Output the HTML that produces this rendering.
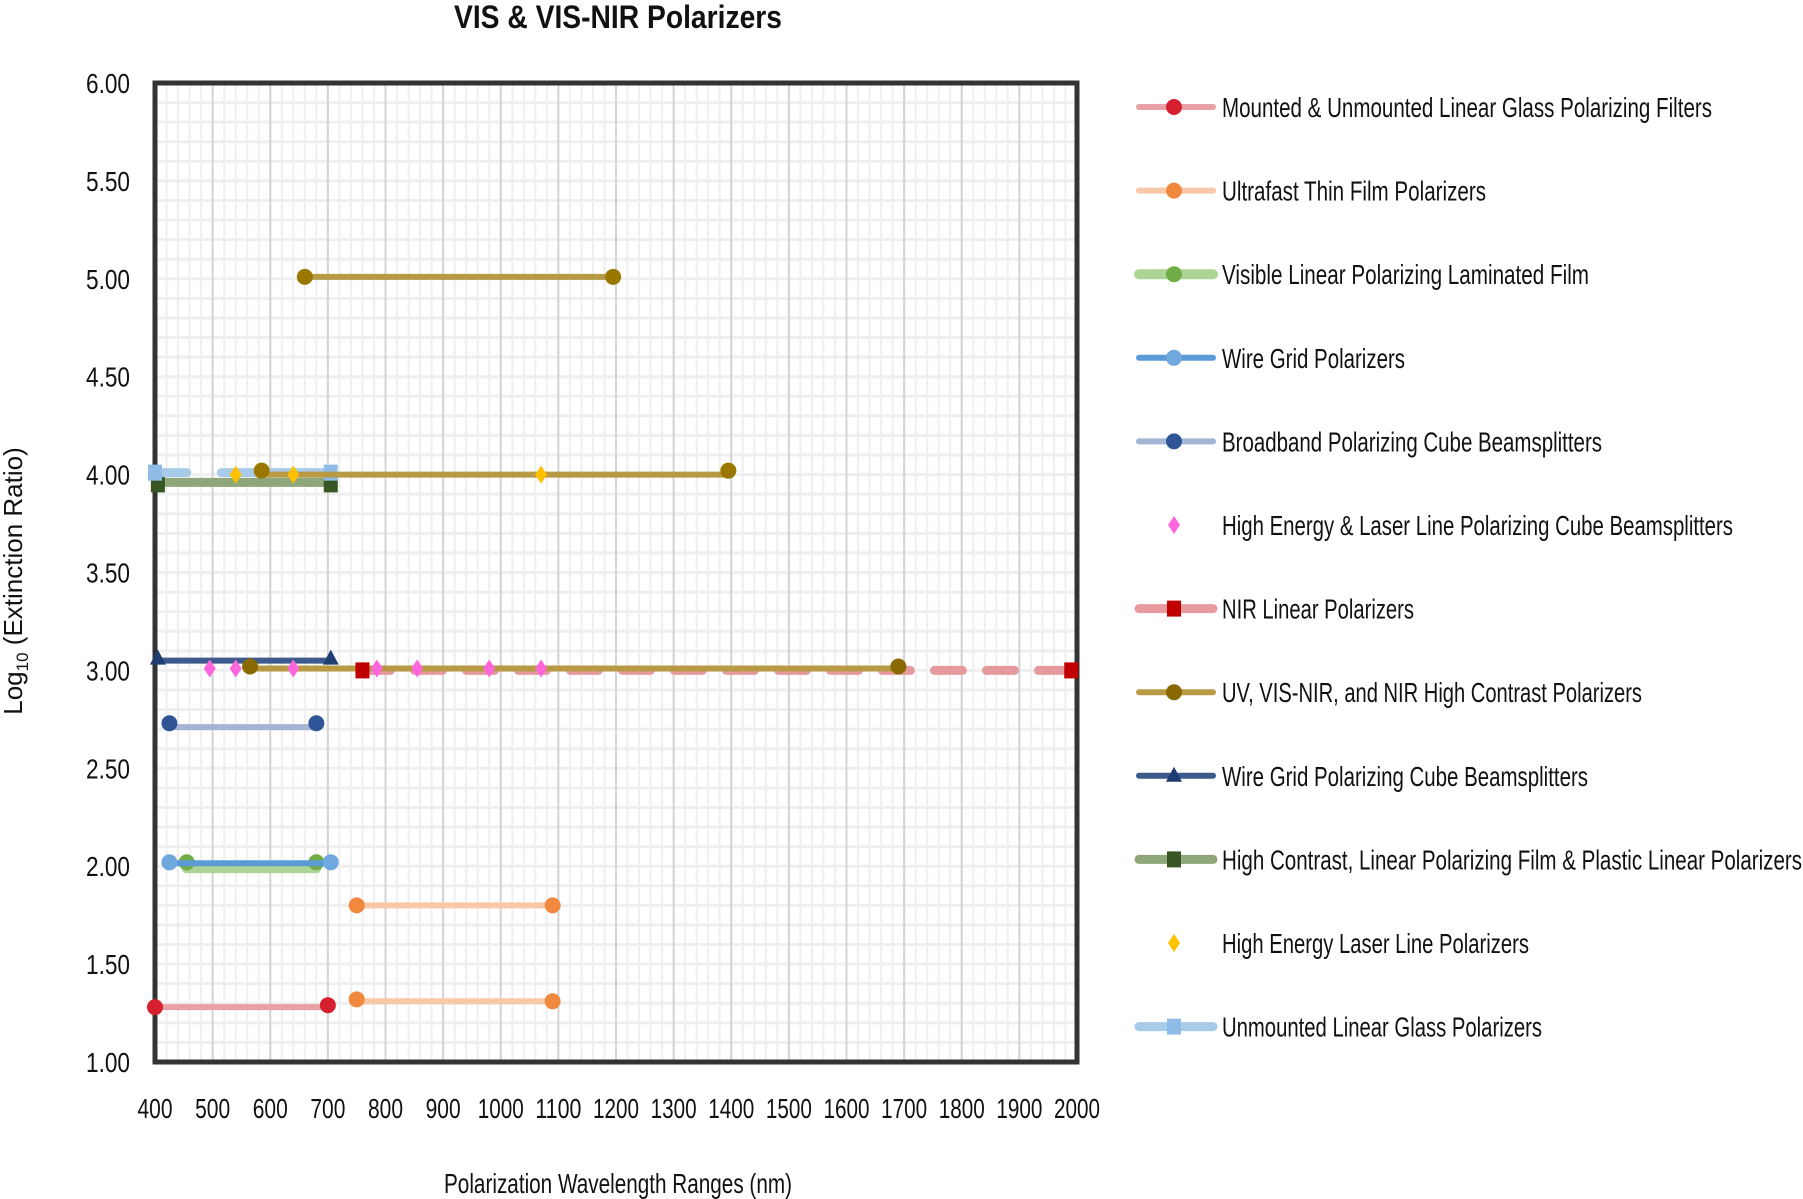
<!DOCTYPE html>
<html><head><meta charset="utf-8"><style>html,body{margin:0;padding:0;background:#fff}svg{display:block}text{font-family:"Liberation Sans Narrow","Liberation Sans",sans-serif;fill:#111}</style></head>
<body>
<svg id="s" width="1803" height="1199" xmlns="http://www.w3.org/2000/svg"></svg>
<script>
const s=document.getElementById('s');let h='';
const L=155,R=1077,T=83,B=1062;
const X=v=>L+(v-400)*(R-L)/1600, Y=v=>B-(v-1)*(B-T)/5;
// minor grid
for(let v=400;v<=2000;v+=20){h+=`<line x1="${X(v)}" y1="${T}" x2="${X(v)}" y2="${B}" stroke="#efefef" stroke-width="2"/>`;}
for(let v=1;v<=6.001;v+=0.1){h+=`<line x1="${L}" y1="${Y(v)}" x2="${R}" y2="${Y(v)}" stroke="#efefef" stroke-width="3"/>`;}
for(let v=500;v<2000;v+=100){h+=`<line x1="${X(v)}" y1="${T}" x2="${X(v)}" y2="${B}" stroke="#d4d4d4" stroke-width="2"/>`;}
h+=`<rect x="${L}" y="${T}" width="${R-L}" height="${B-T}" fill="none" stroke="#333" stroke-width="5"/>`;
// y labels
for(let i=0;i<=10;i++){const v=1+i*0.5;h+=`<text x="130" y="${Y(v)+10}" font-size="28" text-anchor="end" textLength="44" lengthAdjust="spacingAndGlyphs">${v.toFixed(2)}</text>`;}
for(let v=400;v<=2000;v+=100){const w=v>=1000?46:35;h+=`<text x="${X(v)}" y="1118" font-size="28" text-anchor="middle" textLength="${w}" lengthAdjust="spacingAndGlyphs">${v}</text>`;}
h+=`<text x="618" y="28" font-size="32" font-weight="bold" text-anchor="middle" textLength="328" lengthAdjust="spacingAndGlyphs">VIS &amp; VIS-NIR Polarizers</text>`;
h+=`<text x="618" y="1193" font-size="28" text-anchor="middle" textLength="348" lengthAdjust="spacingAndGlyphs">Polarization Wavelength Ranges (nm)</text>`;
h+=`<text transform="translate(22,581) rotate(-90)" font-size="26" text-anchor="middle">Log<tspan font-size="17" dy="6">10</tspan><tspan dy="-6"> (Extinction Ratio)</tspan></text>`;
function seg(x1,x2,y,c,w,dash){h+=`<line x1="${X(x1)}" y1="${Y(y)}" x2="${X(x2)}" y2="${Y(y)}" stroke="${c}" stroke-width="${w}" stroke-linecap="round" ${dash?`stroke-dasharray="${dash}"`:''}/>`;}
function mk(px,py,type,c,r=8){
 if(type=='c')h+=`<circle cx="${px}" cy="${py}" r="${r}" fill="${c}"/>`;
 else if(type=='d')h+=`<polygon points="${px},${py-9} ${px+6},${py} ${px},${py+9} ${px-6},${py}" fill="${c}"/>`;
 else if(type=='s')h+=`<rect x="${px-7}" y="${py-8}" width="14" height="16" fill="${c}"/>`;
 else if(type=='t')h+=`<polygon points="${px},${py-9} ${px+8},${py+6} ${px-8},${py+6}" fill="${c}"/>`;}
const M=(x,y,t,c)=>mk(X(x),Y(y),t,c);
// series
seg(400,700,1.28,'#e8a0a4',6);M(400,1.28,'c','#d62030');M(700,1.29,'c','#d62030');
seg(750,1090,1.80,'#f9c8a8',6);M(750,1.80,'c','#f0883e');M(1090,1.80,'c','#f0883e');
seg(750,1090,1.31,'#f9c8a8',6);M(750,1.32,'c','#f0883e');M(1090,1.31,'c','#f0883e');
seg(455,680,1.99,'#acd494',10);M(455,2.02,'c','#70ad47');M(680,2.02,'c','#70ad47');
seg(425,705,2.015,'#5b9bd5',6);M(425,2.02,'c','#6fa8dc');M(705,2.02,'c','#6fa8dc');
seg(425,680,2.71,'#a4b4d4',6);M(425,2.73,'c','#2f5597');M(680,2.73,'c','#2f5597');
seg(760,1990,3.0,'#e69a9e',9,'28 24');
seg(565,1690,3.01,'#b89a45',6);
seg(405,705,3.05,'#3c5a8c',6);M(405,3.06,'t','#1f3d70');M(705,3.06,'t','#1f3d70');
M(760,3.0,'s','#c00000');M(1990,3.0,'s','#c00000');
M(565,3.02,'c','#8a6a00');M(1690,3.02,'c','#8a6a00');
[495,540,640,785,855,980,1070].forEach(v=>M(v,3.01,'d','#ff66dd'));
seg(660,1195,5.01,'#b89a45',6);M(660,5.01,'c','#9a7800');M(1195,5.01,'c','#9a7800');
seg(405,705,3.96,'#8ea67a',9);M(405,3.95,'s','#375623');M(705,3.95,'s','#375623');
seg(400,455,4.01,'#a8cbea',9);seg(515,705,4.01,'#a8cbea',9);M(400,4.01,'s','#8fbce6');M(705,4.01,'s','#8fbce6');
seg(585,1395,4.0,'#b89a45',6);M(585,4.02,'c','#9a7800');M(1395,4.02,'c','#9a7800');
[540,640,1070].forEach(v=>M(v,4.0,'d','#ffc000'));
// legend
const lg=[['Mounted &amp; Unmounted Linear Glass Polarizing Filters',490,'#e8a0a4',6,'c','#d62030'],
['Ultrafast Thin Film Polarizers',264,'#f9c8a8',6,'c','#f0883e'],
['Visible Linear Polarizing Laminated Film',367,'#acd494',10,'c','#70ad47'],
['Wire Grid Polarizers',183,'#5b9bd5',6,'c','#6fa8dc'],
['Broadband Polarizing Cube Beamsplitters',380,'#a4b4d4',6,'c','#2f5597'],
['High Energy &amp; Laser Line Polarizing Cube Beamsplitters',511,null,0,'d','#ff66dd'],
['NIR Linear Polarizers',192,'#e69a9e',9,'s','#c00000'],
['UV, VIS-NIR, and NIR High Contrast Polarizers',420,'#b89a45',6,'c','#8a6a00'],
['Wire Grid Polarizing Cube Beamsplitters',366,'#3c5a8c',6,'t','#1f3d70'],
['High Contrast, Linear Polarizing Film &amp; Plastic Linear Polarizers',580,'#8ea67a',9,'s','#375623'],
['High Energy Laser Line Polarizers',307,null,0,'d','#ffc000'],
['Unmounted Linear Glass Polarizers',320,'#a8cbea',9,'s','#8fbce6']];
lg.forEach((e,i)=>{const y=107+i*83.6;
 if(e[2])h+=`<line x1="1139" y1="${y}" x2="1213" y2="${y}" stroke="${e[2]}" stroke-width="${e[3]}" stroke-linecap="round"/>`;
 mk(1174,y,e[4],e[5]);
 h+=`<text x="1222" y="${y+10}" font-size="28" textLength="${e[1]}" lengthAdjust="spacingAndGlyphs">${e[0]}</text>`;});
s.innerHTML=h;
</script>
</body></html>
